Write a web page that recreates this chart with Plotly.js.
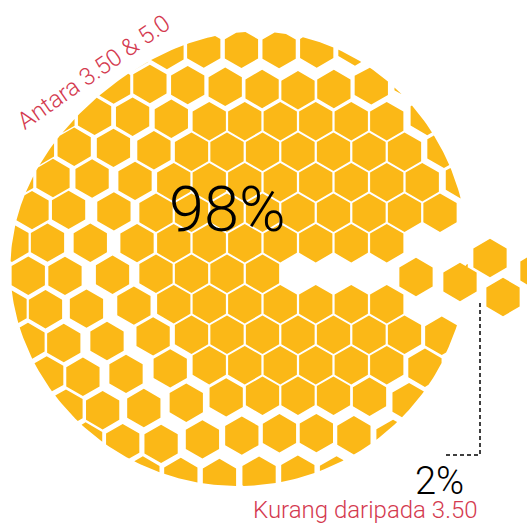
<!DOCTYPE html>
<html><head><meta charset="utf-8">
<script src="https://cdn.plot.ly/plotly-3.0.1.min.js"></script>
<style>html,body{margin:0;padding:0;background:#fff}#chart{width:527px;height:525px}</style>
</head><body><div id="chart"></div>
<script>
// ---- data ----
const categories = ["Antara 3.50 & 5.0", "Kurang daripada 3.50"];
const shares = [98, 2];
const shareLabels = shares.map(v => v + "%");
// cells of the 2% group (pixel-space data units)
const smallGroupX = [416, 460, 490, 503, 537];
const smallGroupY = [277, 282, 258, 297, 271];
// honeycomb cells left empty where the 2% group came out: row index, column index
const gapRow = [5, 5, 6, 6, 6, 6, 6, 7, 7];
const gapCol = [3, 4, 0, 1, 2, 3, 4, 3, 4];

// ---- styling / geometry ----
const HEX_COLOR = "#FBB817";
const LABEL_COLOR = "#D43A4F";
const ROW0 = 90.7, ROWSTEP = 30.5, COL0 = 298, COLSTEP = 35.5;
const HR = 19.2;                        // drawn hexagon radius
const PRE = {x: 245, y: 256, r: 221};   // outline before the burst
const POST = {x: 238, y: 256, r: 230};  // outer outline
const DENT = 18, DENT_DIR = Math.atan2(-181, -147); // room for the upper label
const CD = {x: 300, y: 250};            // burst centre
const R0 = 158, K = 0.37, SMAX = 23;
const PHI_CALM = Math.atan2(-175, -209);

function hexPoly(cx, cy, r) {
  const p = [];
  for (let k = 0; k < 6; k++) {
    const a = (-90 + 60 * k) * Math.PI / 180;
    p.push([cx + r * Math.cos(a), cy + r * Math.sin(a)]);
  }
  return p;
}
function outline(c, dent) {
  const out = [];
  for (let k = 0; k < 360; k++) {
    const a = k * Math.PI / 180;
    const r = c.r - dent * Math.pow(Math.max(0, Math.cos(a - DENT_DIR)), 4);
    out.push([c.x + r * Math.cos(a), c.y + r * Math.sin(a)]);
  }
  return out;
}
const preC = outline(PRE, 0), postC = outline(POST, DENT);
function cross(a, b, p) { return (b[0]-a[0])*(p[1]-a[1]) - (b[1]-a[1])*(p[0]-a[0]); }
function inter(a, b, p, q) {
  const a1 = cross(a, b, p), a2 = cross(a, b, q);
  const t = a1 / (a1 - a2);
  return [p[0] + t*(q[0]-p[0]), p[1] + t*(q[1]-p[1])];
}
function clipPoly(subject, circ, c) {
  const sgn = Math.sign(cross(circ[0], circ[1], [c.x, c.y]));
  let out = subject;
  for (let k = 0; k < circ.length && out.length; k++) {
    const a = circ[k], b = circ[(k+1) % circ.length];
    const inp = out; out = [];
    for (let m = 0; m < inp.length; m++) {
      const P = inp[m], Q = inp[(m+1) % inp.length];
      const pin = sgn * cross(a, b, P) >= 0, qin = sgn * cross(a, b, Q) >= 0;
      if (pin) { out.push(P); if (!qin) out.push(inter(a, b, P, Q)); }
      else if (qin) { out.push(inter(a, b, P, Q)); }
    }
  }
  return out;
}
function maxDist(poly, c) { return Math.max(...poly.map(p => Math.hypot(p[0]-c.x, p[1]-c.y))); }

const gapSet = new Set(gapRow.map((r, k) => r + "," + gapCol[k]));
const hx = [], hy = [];
for (let j = -3; j <= 15; j++) {
  const odd = ((j % 2) + 2) % 2 === 1;
  const cy = ROW0 + ROWSTEP * j;
  for (let i = -10; i <= 8; i++) {
    if (gapSet.has(j + "," + i)) continue;
    const cx = COL0 + COLSTEP * i + (odd ? COLSTEP / 2 : 0);
    const dc = Math.hypot(cx - PRE.x, cy - PRE.y);
    if (dc > PRE.r + HR) continue;
    let poly = hexPoly(cx, cy, HR);
    if (dc > PRE.r - HR) poly = clipPoly(poly, preC, PRE);
    if (poly.length < 3) continue;
    const d = Math.hypot(cx - CD.x, cy - CD.y);
    const phi = Math.atan2(cy - CD.y, cx - CD.x);
    const calm = Math.pow(Math.max(0, Math.cos(phi - PHI_CALM)), 6);
    const s = (1 - 0.6 * calm) * Math.min(SMAX, K * Math.max(0, d - R0));
    const ux = (cx - CD.x) / d, uy = (cy - CD.y) / d;
    poly = poly.map(p => [p[0] + ux * s, p[1] + uy * s]);
    if (maxDist(poly, POST) > POST.r - DENT) poly = clipPoly(poly, postC, POST);
    if (poly.length < 3) continue;
    poly.push(poly[0]);
    poly.forEach(p => { hx.push(p[0]); hy.push(p[1]); });
    hx.push(null); hy.push(null);
  }
}
smallGroupX.forEach((x, k) => {
  const poly = hexPoly(x, smallGroupY[k], HR); poly.push(poly[0]);
  poly.forEach(p => { hx.push(p[0]); hy.push(p[1]); });
  hx.push(null); hy.push(null);
});

const traces = [
  {type: "scatter", mode: "lines", x: hx, y: hy, fill: "toself", fillcolor: HEX_COLOR,
   line: {width: 0, color: "rgba(0,0,0,0)"}, hoverinfo: "skip", showlegend: false},
  {type: "scatter", mode: "lines", x: [480, 480, 445], y: [303, 455, 455],
   line: {color: "#000", width: 1.5, dash: "4px,3px"}, hoverinfo: "skip", showlegend: false}
];

const layout = {
  width: 527, height: 525, autosize: false,
  margin: {l: 0, r: 0, t: 0, b: 0, pad: 0},
  paper_bgcolor: "#fff", plot_bgcolor: "#fff",
  xaxis: {range: [0, 527], visible: false, fixedrange: true},
  yaxis: {range: [525, 0], visible: false, fixedrange: true},
  showlegend: false,
  annotations: [
    {x: 227, y: 209, xref: "x", yref: "y", text: shareLabels[0], showarrow: false,
     xanchor: "center", yanchor: "middle",
     font: {family: "Roboto, sans-serif", weight: 300, size: 63, color: "#000"}},
    {x: 439, y: 481, xref: "x", yref: "y", text: shareLabels[1], showarrow: false,
     xanchor: "center", yanchor: "middle",
     font: {family: "Roboto, sans-serif", weight: 300, size: 38, color: "#000"}},
    {x: 251, y: 510, xref: "x", yref: "y", text: categories[1], showarrow: false,
     xanchor: "left", yanchor: "middle",
     font: {family: "Roboto, sans-serif", weight: 300, size: 24, color: LABEL_COLOR}},
    {x: 94, y: 72, xref: "x", yref: "y", text: categories[0], showarrow: false,
     xanchor: "center", yanchor: "middle", textangle: -35,
     font: {family: "Roboto, sans-serif", weight: 300, size: 24, color: LABEL_COLOR}}
  ]
};
Plotly.newPlot("chart", traces, layout, {staticPlot: true, displayModeBar: false});
</script>
</body></html>
